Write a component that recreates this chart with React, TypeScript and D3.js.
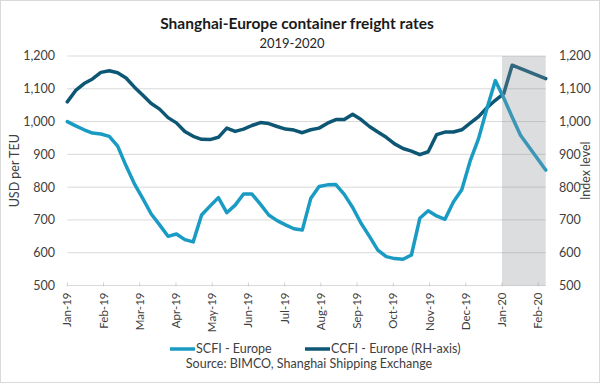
import React from "react";
import * as d3 from "d3";

const dates = [
  "2019-01-04","2019-01-11","2019-01-18","2019-01-25",
  "2019-02-01","2019-02-08","2019-02-15","2019-02-22",
  "2019-03-01","2019-03-08","2019-03-15","2019-03-22","2019-03-29",
  "2019-04-05","2019-04-12","2019-04-19","2019-04-26",
  "2019-05-03","2019-05-10","2019-05-17","2019-05-24","2019-05-31",
  "2019-06-07","2019-06-14","2019-06-21","2019-06-28",
  "2019-07-05","2019-07-12","2019-07-19","2019-07-26",
  "2019-08-02","2019-08-09","2019-08-16","2019-08-23","2019-08-30",
  "2019-09-06","2019-09-13","2019-09-20","2019-09-27",
  "2019-10-04","2019-10-11","2019-10-18","2019-10-25",
  "2019-11-01","2019-11-08","2019-11-15","2019-11-22","2019-11-29",
  "2019-12-06","2019-12-13","2019-12-20","2019-12-27",
  "2020-01-03","2020-01-10","2020-01-17","2020-01-24","2020-01-31",
  "2020-02-07",
];

const scfiEurope: (number | null)[] = [
  1000, 987, 975, 965,
  962, 955, 925, 865,
  810, 765, 718, 685, 650,
  657, 640, 633, 715,
  742, 768, 722, 745, 779,
  779, 748, 715, 698,
  685, 673, 669, 765,
  802, 807, 808, 778, 738,
  690, 650, 608, 588,
  582, 580, 593, 705,
  728, 712, 702, 755, 792,
  880, 948, 1040, 1125,
  1072, 1014, 958, null, null,
  852,
];

const ccfiEurope: (number | null)[] = [
  1060, 1095, 1116, 1130,
  1150, 1155, 1149, 1133,
  1105, 1080, 1055, 1038, 1012,
  996, 970, 955, 946,
  945, 952, 980, 970, 977,
  988, 997, 994, 985,
  977, 974, 966, 975,
  980, 995, 1006, 1006, 1022,
  1006, 985, 968, 952,
  932, 918, 910, 899,
  908, 960, 968, 968, 975,
  995, 1015, 1042, 1065,
  1085, 1172, null, null, null,
  1131,
];

const monthLabels = [
  "Jan-19","Feb-19","Mar-19","Apr-19","May-19","Jun-19","Jul-19",
  "Aug-19","Sep-19","Oct-19","Nov-19","Dec-19","Jan-20","Feb-20",
];

const yTicks = [500, 600, 700, 800, 900, 1000, 1100, 1200];

const SCFI_COLOR = "#1a9bc4";
const CCFI_COLOR = "#0d5775";
const FONT = "Lato, 'Open Sans', sans-serif";
const TEXT = "#404040";

function monthFrac(s: string) {
  const [y, m, d] = s.split("-").map(Number);
  const dim = new Date(y, m, 0).getDate();
  return (y - 2019) * 12 + (m - 1) + (d - 1) / dim;
}

export default function App() {
  const W = 600, H = 383;
  const left = 67.3, right = 545.7, top = 56, bottom = 285.5;

  const monthX = d3.scaleLinear()
    .domain([0, monthFrac(dates[dates.length - 1])])
    .range([left, right]);
  const weekX = d3.scaleLinear().domain([0, dates.length - 1]).range([left, right]);
  const y = d3.scaleLinear().domain([500, 1200]).range([bottom, top]);
  const fmt = d3.format(",");

  const mk = (vals: (number | null)[]) => {
    const pts = vals
      .map((v, i) => ({ i, v }))
      .filter((p) => p.v !== null) as { i: number; v: number }[];
    return d3.line<{ i: number; v: number }>()
      .x((p) => weekX(p.i))
      .y((p) => y(p.v))(pts) || "";
  };

  const shadeX = monthX(12);

  return (
    <svg width={W} height={H} style={{ position: "absolute", left: 0, top: 0, background: "#fff" }}
      fontFamily={FONT}>
      <rect x={0.5} y={0.5} width={W - 1} height={H - 1} fill="#fff" stroke="#d9d9d9" />
      <text x={297} y={29} textAnchor="middle" fontSize={15.5} fontWeight="bold" fill="#1a1a1a">
        Shanghai-Europe container freight rates
      </text>
      <text x={292} y={48} textAnchor="middle" fontSize={13} fill="#262626">2019-2020</text>

      {yTicks.map((t) => (
        <line key={"g" + t} x1={left} x2={right} y1={y(t)} y2={y(t)}
          stroke="#d9d9d9" strokeWidth={1} />
      ))}
      {monthLabels.map((lab, i) => (
        <line key={"t" + lab} x1={monthX(i)} x2={monthX(i)} y1={bottom - 3} y2={bottom + 1}
          stroke="#d0d0d0" strokeWidth={1} />
      ))}

      <path d={mk(ccfiEurope)} fill="none" stroke={CCFI_COLOR} strokeWidth={3.5}
        strokeLinejoin="round" strokeLinecap="round" />
      <path d={mk(scfiEurope)} fill="none" stroke={SCFI_COLOR} strokeWidth={3.5}
        strokeLinejoin="round" strokeLinecap="round" />

      <rect x={shadeX} y={top} width={right - shadeX} height={bottom - top}
        fill="#8c8e94" fillOpacity={0.3} />

      {yTicks.map((t) => (
        <text key={"l" + t} x={55} y={y(t)} dy="0.35em" textAnchor="end" fontSize={12.5} fill={TEXT}>
          {fmt(t)}
        </text>
      ))}
      {yTicks.map((t) => (
        <text key={"r" + t} x={559} y={y(t)} dy="0.35em" textAnchor="start" fontSize={12.5} fill={TEXT}>
          {fmt(t)}
        </text>
      ))}
      {monthLabels.map((lab, i) => (
        <text key={"x" + lab} transform={`translate(${monthX(i)},${bottom + 7}) rotate(-90)`}
          dy="0.35em" textAnchor="end" fontSize={11.5} fill={TEXT}>
          {lab}
        </text>
      ))}

      <text transform={`translate(15,${(top + bottom) / 2}) rotate(-90)`} dy="0.35em"
        textAnchor="middle" fontSize={12.5} fill={TEXT}>USD per TEU</text>
      <text transform={`translate(586,${(top + bottom) / 2}) rotate(-90)`} dy="0.35em"
        textAnchor="middle" fontSize={12.5} fill={TEXT}>Index level</text>

      <line x1={170} x2={195} y1={349} y2={349} stroke={SCFI_COLOR} strokeWidth={3.5} />
      <text x={196} y={353} fontSize={12.5} fill={TEXT}>SCFI - Europe</text>
      <line x1={305} x2={330} y1={349} y2={349} stroke={CCFI_COLOR} strokeWidth={3.5} />
      <text x={331} y={353} fontSize={12.5} fill={TEXT}>CCFI - Europe (RH-axis)</text>
      <text x={309} y={368} textAnchor="middle" fontSize={12.5} fill={TEXT}>
        Source: BIMCO, Shanghai Shipping Exchange
      </text>
    </svg>
  );
}
